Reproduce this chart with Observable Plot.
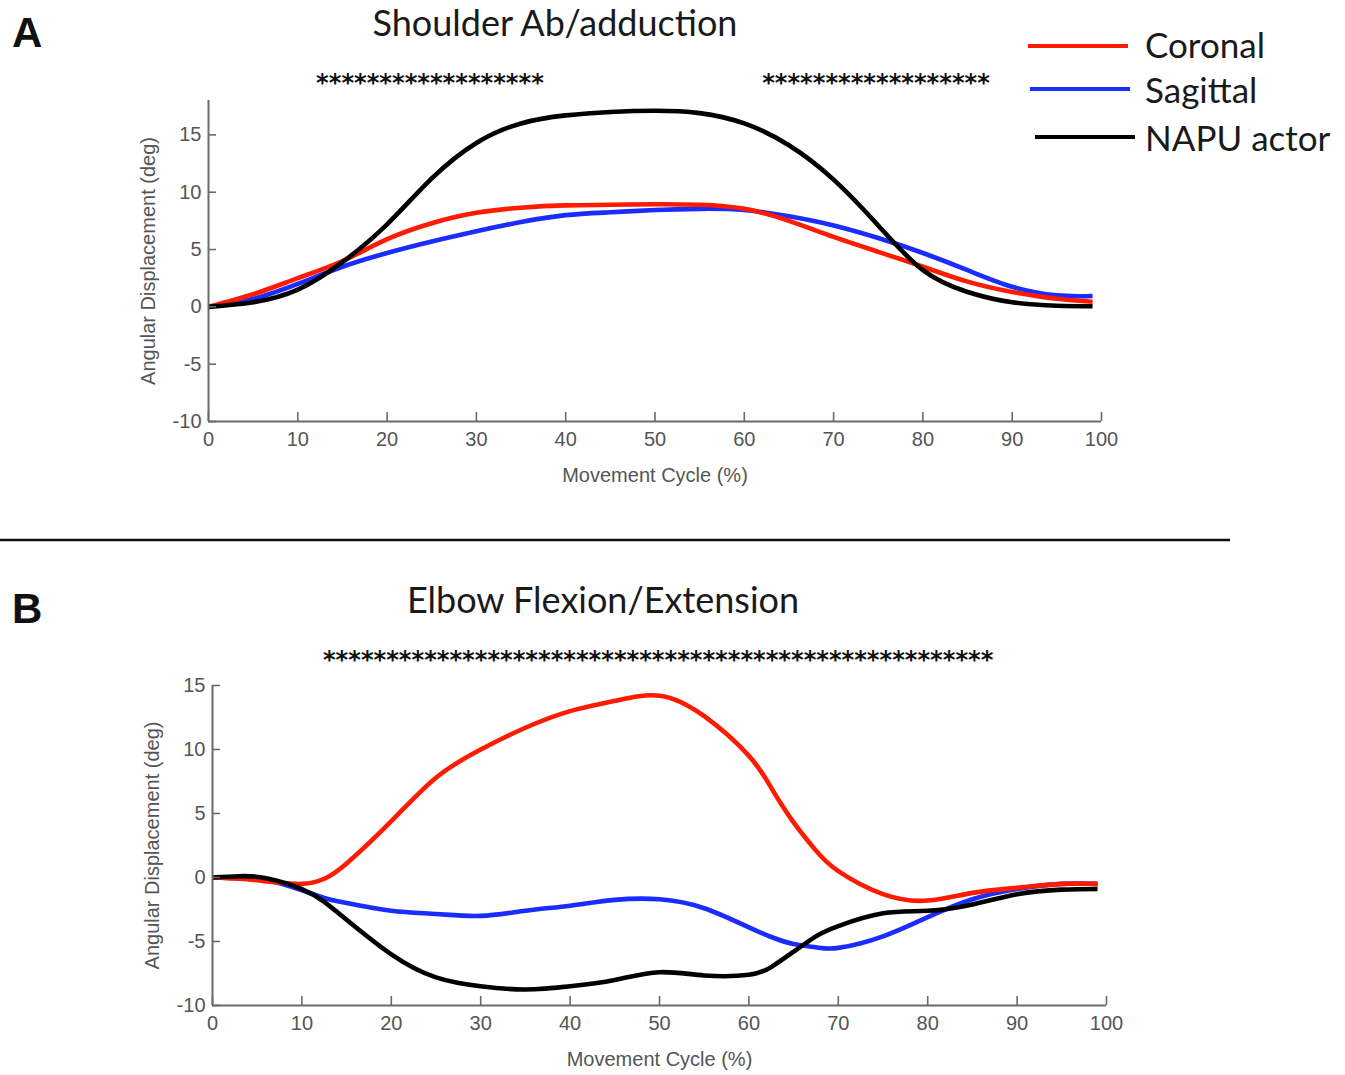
<!DOCTYPE html>
<html>
<head>
<meta charset="utf-8">
<script src="https://cdn.jsdelivr.net/npm/d3@7"></script>
<script src="https://cdn.jsdelivr.net/npm/@observablehq/plot@0.6"></script>
<style>
  body { margin: 0; background: #fff; }
  #page { position: relative; width: 1345px; height: 1075px; overflow: hidden; background: #fff; }
  .plot { position: absolute; left: 0; }
  #overlay { position: absolute; left: 0; top: 0; pointer-events: none; }
</style>
</head>
<body>
<div id="page">
  <div id="plotA" class="plot" style="top:0"></div>
  <div id="plotB" class="plot" style="top:540px"></div>
</div>
<script>
// ---------- data ----------
const seriesNames = ["Coronal", "Sagittal", "NAPU actor"];
const seriesColors = ["#ff1a00", "#1a2cff", "#000000"];

const xTicks = [0, 10, 20, 30, 40, 50, 60, 70, 80, 90, 100];
const yTicksA = [-10, -5, 0, 5, 10, 15];
const yTicksB = [-10, -5, 0, 5, 10, 15];

// Panel A: Shoulder Ab/adduction
const titleA = "Shoulder Ab/adduction";
const cycleA = [0, 5, 10, 15, 20, 25, 30, 35, 40, 45, 50, 55, 60, 65, 70, 75, 80, 85, 90, 95, 99];
const coronalA = [0, 1.1, 2.5, 4.0, 5.9, 7.3, 8.2, 8.65, 8.85, 8.9, 8.95, 8.9, 8.55, 7.5, 6.1, 4.8, 3.5, 2.2, 1.3, 0.7, 0.45];
const sagittalA = [0, 0.7, 2.0, 3.5, 4.7, 5.7, 6.6, 7.4, 8.0, 8.25, 8.45, 8.55, 8.45, 7.9, 7.1, 6.0, 4.7, 3.2, 1.75, 1.0, 0.95];
const napuA = [0, 0.4, 1.5, 3.9, 7.2, 11.2, 14.3, 16.0, 16.7, 17.0, 17.1, 16.9, 16.0, 14.1, 11.1, 7.1, 3.2, 1.3, 0.4, 0.1, 0.05];
const sigRangesA = [[12.3, 37.3], [62.2, 87.3]];
const sigCountA = [18, 18];

// Panel B: Elbow Flexion/Extension
const titleB = "Elbow Flexion/Extension";
const cycleB = [0, 3, 6, 10, 12.5, 15, 20, 25, 30, 35, 40, 45, 50, 55, 60, 62.5, 65, 67.5, 70, 75, 80, 85, 90, 95, 99];
const coronalB = [0, -0.1, -0.3, -0.5, -0.1, 1.1, 4.4, 7.8, 10.0, 11.7, 13.0, 13.8, 14.2, 12.6, 9.5, 7.0, 4.3, 2.1, 0.5, -1.3, -1.8, -1.2, -0.8, -0.5, -0.5];
const sagittalB = [0, -0.05, -0.2, -1.0, -1.6, -2.0, -2.6, -2.85, -3.0, -2.6, -2.2, -1.75, -1.7, -2.4, -3.9, -4.65, -5.2, -5.45, -5.5, -4.6, -3.1, -1.7, -0.9, -0.5, -0.5];
const napuB = [0, 0.1, -0.05, -0.9, -1.9, -3.3, -6.0, -7.8, -8.5, -8.75, -8.5, -8.0, -7.4, -7.65, -7.6, -7.0, -5.8, -4.6, -3.8, -2.8, -2.6, -2.1, -1.3, -0.95, -0.9];
const sigRangesB = [[12.3, 87.4]];
const sigCountB = [53];

const xLabel = "Movement Cycle (%)";
const yLabel = "Angular Displacement (deg)";

// ---------- chart ----------
const axisGray = "#6a6a6a";
const textGray = "#555";

function rows(xs, ys) { return xs.map((x, i) => ({x, y: ys[i]})); }

function panel({cycle, series, yDomain, yTicks, sigRanges, sigCount, margins, height, sigDy}) {
  const order = [1, 0, 2]; // draw blue, red, then black on top
  const lines = order.map(k => Plot.line(rows(cycle, series[k]), {
    x: "x", y: "y", stroke: seriesColors[k], strokeWidth: 4.6, curve: "natural",
    strokeLinecap: "butt", strokeLinejoin: "round"
  }));
  const sig = sigRanges.map((r, i) => ({mid: (r[0] + r[1]) / 2, n: sigCount[i]}));
  return Plot.plot({
    width: 1345,
    height,
    marginLeft: margins[0], marginRight: margins[1], marginTop: margins[2], marginBottom: margins[3],
    style: {fontFamily: "'Liberation Sans', Arial, sans-serif", fontSize: "19px", color: textGray, background: "transparent", overflow: "visible"},
    x: {domain: [0, 100]},
    y: {domain: yDomain},
    marks: [
      ...lines,
      Plot.ruleX([0], {stroke: axisGray, strokeWidth: 2}),
      Plot.ruleY([yDomain[0]], {stroke: axisGray, strokeWidth: 2}),
      Plot.ruleX(xTicks, {x: d => d, y1: yDomain[0], y2: yDomain[0], insetBottom: 9, stroke: axisGray, strokeWidth: 1.6}),
      Plot.ruleY(yTicks, {y: d => d, x1: 0, x2: 0, insetRight: -8, stroke: axisGray, strokeWidth: 1.6}),
      Plot.axisX({ticks: xTicks, tickSize: 0, tickPadding: 10, tickFormat: d => String(d),
        label: xLabel, labelAnchor: "center", labelOffset: 60, labelArrow: "none", fontSize: 20}),
      Plot.axisY({ticks: yTicks, tickSize: 0, tickPadding: 7, tickFormat: d => String(d),
        label: yLabel, labelAnchor: "center", labelOffset: 68, labelArrow: "none", fontSize: 20}),
      Plot.text(sig, {x: "mid", frameAnchor: "top", dy: sigDy, text: d => "*".repeat(d.n),
        fontFamily: "'DejaVu Sans', sans-serif", fontWeight: "bold", fontSize: 24.2, fill: "#111", lineAnchor: "bottom"})
    ]
  });
}

document.getElementById("plotA").append(panel({
  cycle: cycleA, series: [coronalA, sagittalA, napuA], yDomain: [-10, 18], yTicks: yTicksA,
  sigRanges: sigRangesA, sigCount: sigCountA, margins: [208, 244, 100, 119], height: 540, sigDy: -10
}));
document.getElementById("plotB").append(panel({
  cycle: cycleB, series: [coronalB, sagittalB, napuB], yDomain: [-10, 15], yTicks: yTicksB,
  sigRanges: sigRangesB, sigCount: sigCountB, margins: [212, 239, 145, 70], height: 535, sigDy: -18
}));

// ---------- overlay: panel letters, titles, legend, divider ----------
const NS = "http://www.w3.org/2000/svg";
const ov = document.createElementNS(NS, "svg");
ov.setAttribute("id", "overlay");
ov.setAttribute("width", 1345);
ov.setAttribute("height", 1075);
function el(tag, attrs, text) {
  const e = document.createElementNS(NS, tag);
  for (const k in attrs) e.setAttribute(k, attrs[k]);
  if (text != null) e.textContent = text;
  ov.appendChild(e);
  return e;
}
const titleFont = "Lato, 'Open Sans', sans-serif";
el("text", {x: 12, y: 47, "font-family": "'Liberation Sans', Arial, sans-serif", "font-weight": "bold", "font-size": 42, fill: "#111"}, "A");
el("text", {x: 12, y: 623, "font-family": "'Liberation Sans', Arial, sans-serif", "font-weight": "bold", "font-size": 42, fill: "#111"}, "B");
el("text", {x: 555, y: 36, "text-anchor": "middle", "font-family": titleFont, "font-size": 36, fill: "#1a1a1a"}, titleA);
el("text", {x: 603, y: 613, "text-anchor": "middle", "font-family": titleFont, "font-size": 36, fill: "#1a1a1a"}, titleB);
el("line", {x1: 0, x2: 1230, y1: 540, y2: 540, stroke: "#111", "stroke-width": 2.5});

const legendLines = [[1028, 1128, 46], [1030, 1130, 89], [1035, 1135, 137]];
const legendBase = [58, 103, 151];
seriesNames.forEach((name, i) => {
  const [x1, x2, y] = legendLines[i];
  el("line", {x1, x2, y1: y, y2: y, stroke: seriesColors[i], "stroke-width": 4});
  el("text", {x: 1145, y: legendBase[i], "font-family": titleFont, "font-size": 35, fill: "#1a1a1a"}, name);
});
document.getElementById("page").appendChild(ov);
</script>
</body>
</html>
